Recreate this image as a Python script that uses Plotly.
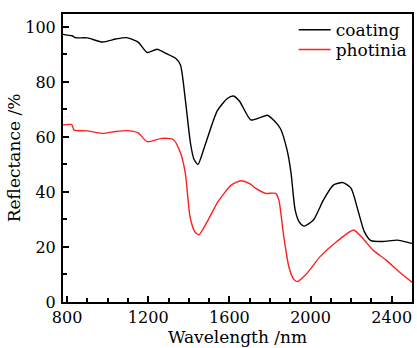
import plotly.graph_objects as go

# Reflectance spectra (wavelength in nm, reflectance in %)
coating_wl = [780, 800, 825, 840, 900, 975, 1040, 1092, 1150, 1195, 1243, 1290, 1335, 1359, 1383,
              1408, 1425, 1445, 1480, 1540, 1590, 1620, 1650, 1705, 1750, 1787, 1820, 1852, 1885,
              1904, 1924, 1945, 1967, 2014, 2063, 2112, 2160, 2200, 2233, 2265, 2298, 2355, 2428, 2483, 2500]
coating_rf = [97.3, 97.0, 96.8, 96.1, 96.0, 94.5, 95.6, 96.1, 94.5, 90.7, 91.9, 90.3, 88.6, 86.2, 73.5,
              57.8, 52.0, 50.0, 57.0, 69.5, 74.0, 74.9, 73.0, 66.2, 67.0, 67.9, 66.0, 63.0, 55.0,
              46.8, 33.5, 29.0, 27.6, 29.8, 37.0, 42.5, 43.4, 41.3, 33.5, 25.6, 22.3, 22.0, 22.5, 21.6, 21.3]

photinia_wl = [780, 800, 823, 835, 900, 975, 1040, 1092, 1150, 1195, 1267, 1325, 1360, 1383, 1406,
               1430, 1450, 1495, 1544, 1609, 1657, 1700, 1730, 1779, 1828, 1844, 1868, 1893, 1915,
               1933, 1982, 2047, 2128, 2212, 2258, 2307, 2371, 2436, 2500]
photinia_rf = [64.4, 64.5, 64.5, 62.5, 62.2, 61.3, 62.0, 62.3, 61.5, 58.3, 59.5, 59.0, 54.0, 46.8, 31.0,
               25.5, 24.4, 29.8, 36.5, 42.5, 44.1, 43.0, 41.3, 39.5, 39.5, 37.0, 23.8, 12.8, 8.5,
               7.4, 10.4, 16.5, 21.9, 26.2, 23.1, 18.9, 15.3, 11.0, 7.2]

x_ticks = [800, 1200, 1600, 2000, 2400]
y_ticks = [0, 20, 40, 60, 80, 100]

font_family = "DejaVu Serif"
legend_font = dict(family=font_family, size=17, color="black")

fig = go.Figure()
fig.add_trace(go.Scatter(x=coating_wl, y=coating_rf, name="coating", mode="lines", legend="legend",
                         line=dict(color="black", width=1.4, shape="spline", smoothing=0.6)))
fig.add_trace(go.Scatter(x=photinia_wl, y=photinia_rf, name="photinia", mode="lines", legend="legend2",
                         line=dict(color="#ff2020", width=1.4, shape="spline", smoothing=0.6)))

axis_common = dict(showline=True, linecolor="black", linewidth=2, mirror=True,
                   ticks="inside", ticklen=6, tickwidth=1.5, tickcolor="black",
                   showgrid=False, zeroline=False,
                   tickfont=dict(family=font_family, size=16, color="black"))

fig.update_xaxes(range=[780, 2500], tickvals=x_ticks, ticktext=[str(v) for v in x_ticks],
                 minor=dict(ticks="inside", ticklen=4, tickwidth=1.5, tickcolor="black", dtick=100, tick0=800),
                 title=dict(text="Wavelength /nm", font=dict(family=font_family, size=17, color="black"), standoff=4),
                 **axis_common)
fig.update_yaxes(range=[0, 104.7], tickvals=y_ticks, ticktext=[str(v) for v in y_ticks],
                 minor=dict(ticks="inside", ticklen=4, tickwidth=1.5, tickcolor="black", dtick=10, tick0=0),
                 ticklabelstandoff=2,
                 title=dict(text="Reflectance /%", font=dict(family=font_family, size=17, color="black"), standoff=0),
                 **axis_common)

fig.update_layout(
    width=417, height=348,
    margin=dict(l=63, r=3, t=14, b=46),
    paper_bgcolor="white", plot_bgcolor="white",
    showlegend=True,
    legend=dict(x=0.661, y=0.944, xanchor="left", yanchor="middle", bgcolor="rgba(0,0,0,0)",
                font=legend_font, itemwidth=32),
    legend2=dict(x=0.661, y=0.875, xanchor="left", yanchor="middle", bgcolor="rgba(0,0,0,0)",
                 font=legend_font, itemwidth=32),
)

fig.write_html("out.html")
